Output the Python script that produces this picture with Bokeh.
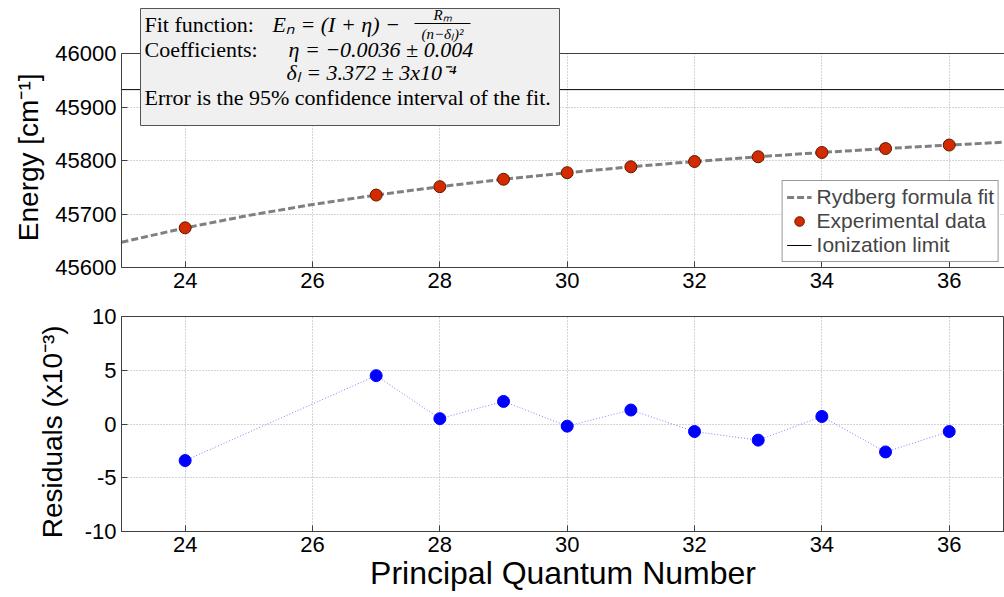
from bokeh.plotting import figure
from bokeh.layouts import column
from bokeh.models import FixedTicker, Legend, LegendItem
from bokeh.core.properties import value
from bokeh.embed import file_html
from bokeh.resources import INLINE

# ---------------- data ----------------
n_exp = [24, 27, 28, 29, 30, 31, 32, 33, 34, 35, 36]
energy_exp = [45674.1, 45735.4, 45751.1, 45764.9, 45777.2, 45788.2,
              45798.1, 45807.0, 45815.0, 45822.3, 45828.9]
n_fit = [23, 24, 25, 26, 27, 28, 29, 30, 31, 32, 33, 34, 35, 36, 37]
energy_fit = [45647.2, 45674.1, 45697.4, 45717.7, 45735.4, 45751.1, 45764.9,
              45777.2, 45788.2, 45798.1, 45807.0, 45815.0, 45822.3, 45828.9, 45835.0]
ionization_limit = 45932.5
residuals = [-3.4, 4.5, 0.5, 2.1, -0.2, 1.3, -0.7, -1.5, 0.7, -2.6, -0.7]
x_ticks = [24, 26, 28, 30, 32, 34, 36]
energy_ticks = [45600, 45700, 45800, 45900, 46000]
residual_ticks = [-10, -5, 0, 5, 10]

# ---------------- layout constants ----------------
LEFT = 121
FRAME_W = 883
PX_PER_N = 63.67
X0 = 23.0
X1 = X0 + FRAME_W / PX_PER_N
BOX_TOP_PX = 53          # pixel row of the 46000 line
TOP_FRAME_H = 267        # frame runs from the window top to the 45600 line
E_LO, E_HI = 45600, 46000
PX_PER_E = (TOP_FRAME_H - BOX_TOP_PX) / float(E_HI - E_LO)
Y_TOP = E_LO + TOP_FRAME_H / PX_PER_E


def px_x(px):
    return X0 + (px - LEFT) / PX_PER_N


def px_y(py):
    return Y_TOP - py / PX_PER_E


SANS = "Liberation Sans"
SERIF = "Liberation Serif"
GRID_COLOR = "#a8a8a8"
AXIS_COLOR = "#404040"
NBSP = "\u00a0"


def style_axes(p):
    for ax in p.axis:
        ax.major_tick_in = 6
        ax.major_tick_out = 0
        ax.minor_tick_in = 0
        ax.minor_tick_out = 0
        ax.major_tick_line_color = AXIS_COLOR
        ax.axis_line_color = AXIS_COLOR
        ax.major_label_text_font = SANS
        ax.major_label_text_font_size = "22px"
        ax.major_label_text_color = "black"
        ax.axis_label_text_font = SANS
        ax.axis_label_text_font_style = "normal"
        ax.axis_label_text_color = "black"
    for g in p.grid:
        g.grid_line_color = GRID_COLOR
        g.grid_line_dash = "1 2"
        g.grid_line_width = 1


# ---------------- top panel ----------------
top = figure(frame_width=FRAME_W, frame_height=TOP_FRAME_H,
             x_range=(X0, X1), y_range=(E_LO, Y_TOP),
             output_backend="svg", toolbar_location=None,
             min_border_left=LEFT, min_border_right=0,
             min_border_top=0, min_border_bottom=30)
top.outline_line_color = None
top.background_fill_color = "white"
top.border_fill_color = "white"
top.xaxis.ticker = FixedTicker(ticks=x_ticks)
top.yaxis.ticker = FixedTicker(ticks=energy_ticks)
top.yaxis.bounds = (E_LO, E_HI)
top.ygrid.bounds = (E_LO, E_HI)
top.yaxis.axis_label = "Energy [cm⁻¹]" + NBSP * 6
top.yaxis.axis_label_text_font_size = "28px"
top.yaxis.axis_label_standoff = 8
top.xaxis.major_label_standoff = 5
style_axes(top)

# blank out the area above the axes box, then draw the box's top edge
top.quad(left=X0, right=X1, bottom=E_HI, top=Y_TOP,
         fill_color="white", line_color=None)
top.line([X0, X1], [E_HI, E_HI], line_color=AXIS_COLOR, line_width=1)

r_fit = top.line(n_fit, energy_fit, line_color="#808080", line_width=3,
                 line_dash="7 3")
r_exp = top.scatter(n_exp, energy_exp, size=12, fill_color="#d42a00",
                    line_color="#5a1a00", line_width=1)
r_ion = top.line([X0, X1], [ionization_limit, ionization_limit],
                 line_color="black", line_width=1)

# annotation box (drawn over the lines)
top.quad(left=px_x(140), right=px_x(559), bottom=px_y(125), top=px_y(8),
         fill_color="#f0f0f0", line_color="#555555", line_width=1)

FS = "22px"


def txt(px, py, s, style="normal", size=FS, align="left"):
    top.text(x=[px_x(px)], y=[px_y(py)], text=[s],
             text_font=value(SERIF), text_font_size=size,
             text_font_style=style, text_align=align,
             text_baseline="middle", text_color="black")


txt(144, 24, "Fit function:")
txt(272, 24, "Eₙ = (I + η) −", style="italic")
txt(442, 14, "Rₘ", style="italic", size="15px", align="center")
top.segment(x0=[px_x(414)], y0=[px_y(23)], x1=[px_x(470)], y1=[px_y(23)],
            line_color="black", line_width=1)
txt(442, 33, "(n−δₗ)²", style="italic", size="15px", align="center")
txt(144, 49, "Coefficients:")
txt(288, 49, "η = −0.0036 ± 0.004", style="italic")
txt(286, 72, "δₗ = 3.372 ± 3x10⁻⁴", style="italic")
txt(144, 97, "Error is the 95% confidence interval of the fit.")

legend = Legend(items=[
    LegendItem(label="Rydberg formula fit", renderers=[r_fit]),
    LegendItem(label="Experimental data", renderers=[r_exp]),
    LegendItem(label="Ionization limit", renderers=[r_ion]),
], location="bottom_right")
legend.margin = 5
legend.padding = 4
legend.spacing = 0
legend.glyph_width = 25
legend.glyph_height = 24
legend.label_height = 24
legend.label_standoff = 5
legend.label_text_font = SANS
legend.label_text_font_size = "21px"
legend.border_line_color = "#333333"
legend.border_line_width = 1
legend.background_fill_color = "white"
legend.background_fill_alpha = 1.0
top.add_layout(legend)

# ---------------- bottom panel ----------------
bot = figure(frame_width=FRAME_W, frame_height=215,
             x_range=top.x_range, y_range=(-10, 10),
             output_backend="svg", toolbar_location=None,
             min_border_left=LEFT, min_border_right=0,
             min_border_top=19, min_border_bottom=66)
bot.outline_line_color = AXIS_COLOR
bot.background_fill_color = "white"
bot.border_fill_color = "white"
bot.xaxis.ticker = FixedTicker(ticks=x_ticks)
bot.yaxis.ticker = FixedTicker(ticks=residual_ticks)
bot.yaxis.major_label_overrides = {t: str(t) for t in residual_ticks}
bot.yaxis.axis_label = "Residuals (x10⁻³)" + NBSP * 2
bot.yaxis.axis_label_text_font_size = "28px"
bot.yaxis.axis_label_standoff = 14
bot.xaxis.axis_label = "Principal Quantum Number"
bot.xaxis.axis_label_text_font_size = "32px"
bot.xaxis.major_label_standoff = 5
bot.xaxis.axis_label_standoff = 0
style_axes(bot)

bot.line(n_exp, residuals, line_color="#8080ff", line_width=1, line_dash="1 2")
bot.scatter(n_exp, residuals, size=12, fill_color="#0000ff", line_color="#0000ff")

layout = column(top, bot, spacing=0)
open("out.html", "w").write(file_html(layout, INLINE))
